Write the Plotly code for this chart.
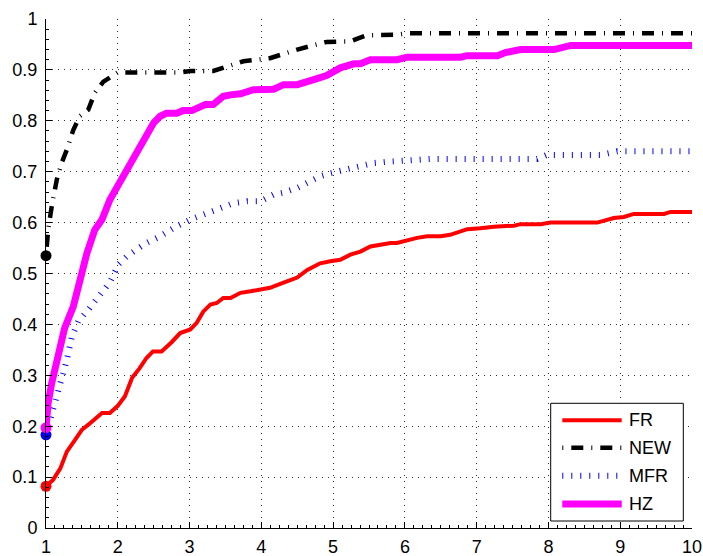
import plotly.graph_objects as go

# ---------------- data ----------------
fr_x = [1, 1.1, 1.2, 1.29, 1.4, 1.5, 1.59, 1.71, 1.78, 1.89, 2.0, 2.1, 2.2, 2.3, 2.4, 2.49, 2.61,
        2.75, 2.87, 3.01, 3.1, 3.19, 3.29, 3.38, 3.47, 3.57, 3.71, 3.85, 3.98, 4.12, 4.31, 4.5,
        4.64, 4.82, 4.96, 5.1, 5.24, 5.38, 5.52, 5.66, 5.8, 5.89, 6.03, 6.17, 6.31, 6.5, 6.63,
        6.73, 6.87, 7.05, 7.24, 7.52, 7.61, 7.89, 8.03, 8.68, 8.91, 9.05, 9.19, 9.61, 9.7, 10]
fr_y = [0.082, 0.095, 0.117, 0.15, 0.172, 0.193, 0.203, 0.219, 0.226, 0.226, 0.240, 0.259, 0.295,
        0.313, 0.334, 0.347, 0.347, 0.365, 0.383, 0.39, 0.403, 0.425, 0.439, 0.442, 0.452, 0.452,
        0.462, 0.465, 0.468, 0.472, 0.482, 0.492, 0.507, 0.52, 0.524, 0.527, 0.537, 0.543, 0.553,
        0.557, 0.56, 0.56, 0.566, 0.57, 0.573, 0.573, 0.576, 0.58, 0.587, 0.589, 0.592, 0.594,
        0.597, 0.597, 0.6, 0.6, 0.609, 0.611, 0.617, 0.617, 0.621, 0.621]

new_x = [1, 1.03, 1.08, 1.15, 1.22, 1.29, 1.38, 1.47, 1.59, 1.68, 1.8, 1.89, 2.0, 2.87, 3.01,
         3.33, 3.61, 3.75, 4.12, 4.5, 4.91, 5.24, 5.33, 5.47, 5.89, 6.03, 10]
new_y = [0.535, 0.586, 0.632, 0.684, 0.718, 0.743, 0.782, 0.809, 0.822, 0.855, 0.877, 0.884,
         0.895, 0.895, 0.898, 0.898, 0.91, 0.917, 0.923, 0.94, 0.955, 0.956, 0.961, 0.968,
         0.969, 0.972, 0.972]

mfr_x = [1, 1.1, 1.2, 1.29, 1.36, 1.45, 1.59, 1.75, 1.89, 2.01, 2.13, 2.26, 2.4, 2.59, 2.82,
         3.01, 3.24, 3.43, 3.61, 3.8, 3.99, 4.17, 4.31, 4.5, 4.64, 4.82, 4.96, 5.1, 5.24, 5.38,
         5.56, 5.8, 6.08, 6.36, 7.84, 7.98, 8.73, 8.96, 10]
mfr_y = [0.183, 0.232, 0.285, 0.33, 0.376, 0.406, 0.429, 0.458, 0.483, 0.518, 0.534, 0.547,
         0.56, 0.573, 0.593, 0.606, 0.619, 0.629, 0.638, 0.642, 0.642, 0.655, 0.659, 0.668,
         0.679, 0.691, 0.697, 0.702, 0.707, 0.71, 0.717, 0.72, 0.722, 0.725, 0.725, 0.733,
         0.733, 0.74, 0.74]

hz_x = [1, 1.03, 1.08, 1.17, 1.26, 1.38, 1.47, 1.57, 1.68, 1.78, 1.89, 1.98, 2.1, 2.24, 2.36,
        2.5, 2.59, 2.68, 2.82, 2.91, 3.03, 3.15, 3.22, 3.33, 3.47, 3.57, 3.71, 3.89, 4.17, 4.31,
        4.5, 4.73, 4.91, 5.1, 5.29, 5.38, 5.52, 5.89, 6.03, 6.77, 6.87, 7.29, 7.4, 7.61, 8.08,
        8.31, 10]
hz_y = [0.197, 0.246, 0.285, 0.337, 0.393, 0.435, 0.484, 0.54, 0.586, 0.606, 0.645, 0.668,
        0.694, 0.73, 0.763, 0.796, 0.809, 0.815, 0.815, 0.82, 0.82, 0.828, 0.832, 0.832, 0.848,
        0.851, 0.853, 0.861, 0.862, 0.871, 0.871, 0.881, 0.889, 0.904, 0.912, 0.912, 0.92, 0.92,
        0.925, 0.925, 0.928, 0.928, 0.934, 0.94, 0.94, 0.948, 0.948]

series_names = ["FR", "NEW", "MFR", "HZ"]
x_ticks = [1, 2, 3, 4, 5, 6, 7, 8, 9, 10]
y_ticks = [0, 0.1, 0.2, 0.3, 0.4, 0.5, 0.6, 0.7, 0.8, 0.9, 1.0]
y_tick_labels = ["0", "0.1", "0.2", "0.3", "0.4", "0.5", "0.6", "0.7", "0.8", "0.9", "1"]

# ---------------- styles ----------------
FONT = "Liberation Sans"
FS = 18
styles = {
    "FR":  dict(color="#ff0000", width=4, dash="solid"),
    "NEW": dict(color="#000000", width=4.5, dash="1px,8px,12px,8px"),
    "MFR": dict(color="#0000ff", width=6, dash="1px,8px"),
    "HZ":  dict(color="#ff00ff", width=7, dash="solid"),
}
data = {"FR": (fr_x, fr_y), "NEW": (new_x, new_y), "MFR": (mfr_x, mfr_y), "HZ": (hz_x, hz_y)}

fig = go.Figure()
for name in series_names:
    xs, ys = data[name]
    st = styles[name]
    fig.add_trace(go.Scatter(x=xs, y=ys, mode="lines", name=name, showlegend=False,
                             line=dict(color=st["color"], width=st["width"], dash=st["dash"])))
for name in series_names:
    xs, ys = data[name]
    st = styles[name]
    fig.add_trace(go.Scatter(x=[xs[0]], y=[ys[0]], mode="markers", showlegend=False,
                             cliponaxis=False, hoverinfo="skip",
                             marker=dict(color=st["color"], size=11, line=dict(width=0))))

# ---------------- manual legend ----------------
L, R, T, B = 46, 11, 19, 28
W, H = 703, 556
pw, ph = W - L - R, H - T - B


def px2x(p):
    return (p - L) / pw


def py2y(p):
    return (H - B - p) / ph


shapes = [dict(type="rect", xref="paper", yref="paper",
               x0=px2x(550.7), x1=px2x(683.3), y0=py2y(521), y1=py2y(403.3),
               line=dict(color="black", width=1), fillcolor="white", layer="above")]
annotations = []
leg_y = [420.3, 447.7, 475.7, 504]
for name, yy in zip(series_names, leg_y):
    st = styles[name]
    shapes.append(dict(type="line", xref="paper", yref="paper",
                       x0=px2x(562.3), x1=px2x(621.7), y0=py2y(yy), y1=py2y(yy),
                       line=dict(color=st["color"], width=st["width"], dash=st["dash"]),
                       layer="above"))
    annotations.append(dict(xref="paper", yref="paper", x=px2x(627), y=py2y(yy),
                            text=name, showarrow=False, xanchor="left", yanchor="middle",
                            font=dict(size=FS, color="black", family=FONT)))

axis_common = dict(showline=True, linecolor="black", linewidth=1, mirror=False,
                   ticks="inside", ticklen=6, tickcolor="black", showgrid=True,
                   gridcolor="#333333", gridwidth=1, griddash="1px,5px", zeroline=False,
                   tickfont=dict(size=FS, color="black", family=FONT))

fig.update_layout(
    width=W, height=H,
    margin=dict(l=L, r=R, t=T, b=B, autoexpand=False),
    paper_bgcolor="white", plot_bgcolor="white",
    font=dict(family=FONT, size=FS, color="black"),
    shapes=shapes, annotations=annotations,
    xaxis=dict(range=[1, 10], tickvals=x_ticks, ticktext=[str(v) for v in x_ticks],
               ticklabelstandoff=2,
               minor=dict(dtick=0.125, ticks="inside", ticklen=3, tickcolor="black",
                          showgrid=False),
               **axis_common),
    yaxis=dict(range=[0, 1], tickvals=y_ticks, ticktext=y_tick_labels,
               ticklabelstandoff=4,
               minor=dict(dtick=0.02, ticks="inside", ticklen=3, tickcolor="black",
                          showgrid=False),
               **axis_common),
)

fig.write_html("out.html", config={"displayModeBar": False},
               post_script="document.body.style.margin='0';")
